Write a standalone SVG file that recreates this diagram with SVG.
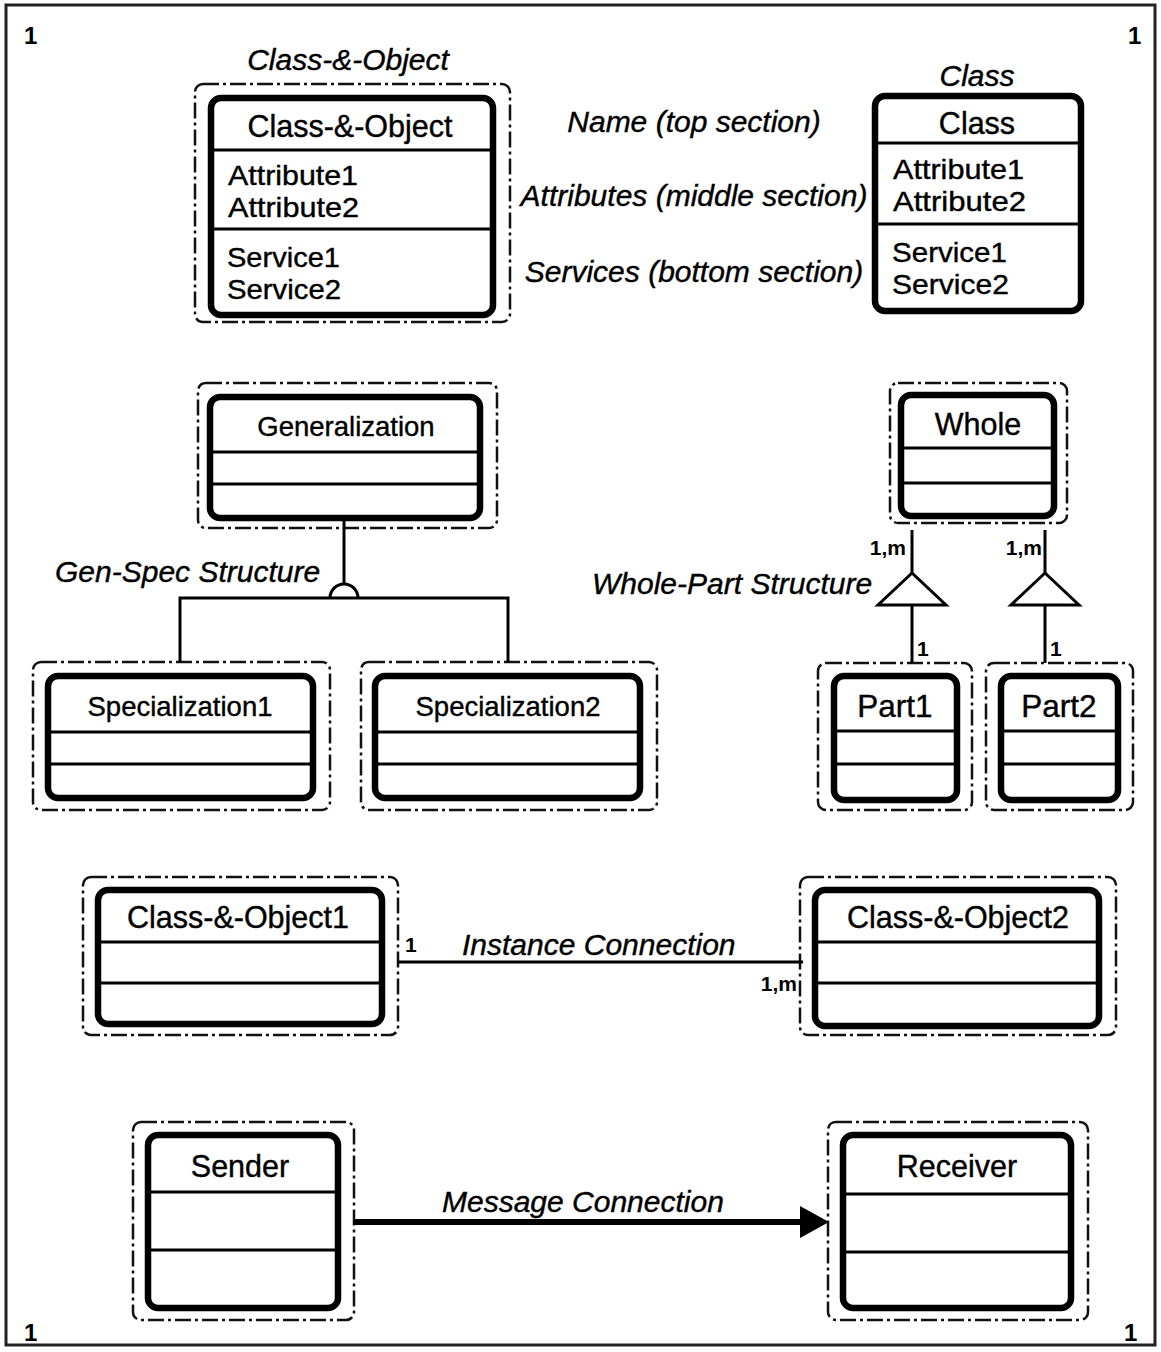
<svg xmlns="http://www.w3.org/2000/svg" width="1161" height="1352" viewBox="0 0 1161 1352">
<defs>
<style>
.bg{fill:#ffffff}
.frame{fill:none;stroke:#222;stroke-width:3}
.outer{fill:none;stroke:#111;stroke-width:2.5;stroke-dasharray:16 4 3 4}
.inner{fill:#fff;stroke:#000;stroke-width:6.5}
.div{stroke:#000;stroke-width:3}
.t{font-family:"Liberation Sans",Arial,sans-serif;font-size:30.5px;fill:#000;stroke:#000;stroke-width:0.4}
.a{font-size:28.5px}
.s{font-size:27.5px}
.p{font-size:31.5px}
.tc{text-anchor:middle}
.i{font-family:"Liberation Sans",Arial,sans-serif;font-size:30px;font-style:italic;fill:#000;stroke:#000;stroke-width:0.4}
.m{font-family:"Liberation Sans",Arial,sans-serif;font-size:21px;font-weight:bold;fill:#000}
.c{font-family:"Liberation Sans",Arial,sans-serif;font-size:24px;font-weight:bold;fill:#000}
.ln{fill:none;stroke:#000;stroke-width:3}
</style>
</defs>
<rect class="bg" x="0" y="0" width="1161" height="1352"/>
<rect class="frame" x="6" y="5" width="1149" height="1340"/>
<g id="corners">
<text class="c" x="24" y="44">1</text>
<text class="c" x="1128" y="44">1</text>
<text class="c" x="24" y="1341">1</text>
<text class="c" x="1124" y="1341">1</text>
</g>

<g id="class-object">
<text class="i tc" x="348" y="70">Class-&amp;-Object</text>
<rect class="outer" x="195" y="84" width="315" height="238" rx="8"/>
<rect class="inner" x="211" y="98" width="282" height="217" rx="10"/>
<line class="div" x1="211" y1="150" x2="493" y2="150"/>
<line class="div" x1="211" y1="229" x2="493" y2="229"/>
<text class="t tc" x="350" y="137">Class-&amp;-Object</text>
<text class="t a" x="228" y="185" textLength="130" lengthAdjust="spacingAndGlyphs">Attribute1</text>
<text class="t a" x="228" y="217" textLength="131" lengthAdjust="spacingAndGlyphs">Attribute2</text>
<text class="t a" x="227" y="267" textLength="113" lengthAdjust="spacingAndGlyphs">Service1</text>
<text class="t a" x="227" y="299" textLength="114" lengthAdjust="spacingAndGlyphs">Service2</text>
</g>

<g id="section-labels">
<text class="i tc" x="694" y="132">Name (top section)</text>
<text class="i tc" x="694" y="206">Attributes (middle section)</text>
<text class="i tc" x="694" y="282">Services (bottom section)</text>
</g>

<g id="class">
<text class="i tc" x="977" y="86">Class</text>
<rect class="inner" x="875" y="96" width="206" height="215" rx="10"/>
<line class="div" x1="875" y1="143" x2="1081" y2="143"/>
<line class="div" x1="875" y1="224" x2="1081" y2="224"/>
<text class="t tc" x="977" y="134">Class</text>
<text class="t a" x="893" y="179" textLength="131" lengthAdjust="spacingAndGlyphs">Attribute1</text>
<text class="t a" x="893" y="211" textLength="133" lengthAdjust="spacingAndGlyphs">Attribute2</text>
<text class="t a" x="892" y="262" textLength="115" lengthAdjust="spacingAndGlyphs">Service1</text>
<text class="t a" x="892" y="294" textLength="117" lengthAdjust="spacingAndGlyphs">Service2</text>
</g>

<g id="generalization">
<rect class="outer" x="198" y="383" width="299" height="145" rx="8"/>
<rect class="inner" x="210" y="397" width="270" height="121" rx="10"/>
<line class="div" x1="210" y1="452" x2="480" y2="452"/>
<line class="div" x1="210" y1="484" x2="480" y2="484"/>
<text class="t s tc" x="346" y="436">Generalization</text>
</g>

<g id="specialization1">
<rect class="outer" x="33" y="662" width="297" height="148" rx="8"/>
<rect class="inner" x="48" y="676" width="265" height="122" rx="10"/>
<line class="div" x1="48" y1="732" x2="313" y2="732"/>
<line class="div" x1="48" y1="764" x2="313" y2="764"/>
<text class="t s tc" x="180" y="716">Specialization1</text>
</g>

<g id="specialization2">
<rect class="outer" x="361" y="662" width="296" height="148" rx="8"/>
<rect class="inner" x="375" y="676" width="265" height="122" rx="10"/>
<line class="div" x1="375" y1="732" x2="640" y2="732"/>
<line class="div" x1="375" y1="764" x2="640" y2="764"/>
<text class="t s tc" x="508" y="716">Specialization2</text>
</g>

<g id="whole">
<rect class="outer" x="890" y="383" width="177" height="140" rx="8"/>
<rect class="inner" x="901" y="395" width="153" height="121" rx="10"/>
<line class="div" x1="901" y1="448" x2="1054" y2="448"/>
<line class="div" x1="901" y1="483" x2="1054" y2="483"/>
<text class="t tc" x="978" y="435">Whole</text>
</g>

<g id="part1">
<rect class="outer" x="818" y="663" width="154" height="147" rx="8"/>
<rect class="inner" x="834" y="676" width="123" height="124" rx="10"/>
<line class="div" x1="834" y1="731" x2="957" y2="731"/>
<line class="div" x1="834" y1="764" x2="957" y2="764"/>
<text class="t p tc" x="895" y="717">Part1</text>
</g>

<g id="part2">
<rect class="outer" x="986" y="663" width="147" height="147" rx="8"/>
<rect class="inner" x="1001" y="676" width="117" height="124" rx="10"/>
<line class="div" x1="1001" y1="731" x2="1118" y2="731"/>
<line class="div" x1="1001" y1="764" x2="1118" y2="764"/>
<text class="t p tc" x="1059" y="717">Part2</text>
</g>

<g id="class-object1">
<rect class="outer" x="83" y="877" width="315" height="158" rx="8"/>
<rect class="inner" x="98" y="890" width="284" height="134" rx="10"/>
<line class="div" x1="98" y1="942" x2="382" y2="942"/>
<line class="div" x1="98" y1="983" x2="382" y2="983"/>
<text class="t tc" x="238" y="928">Class-&amp;-Object1</text>
</g>

<g id="class-object2">
<rect class="outer" x="800" y="877" width="316" height="158" rx="8"/>
<rect class="inner" x="815" y="890" width="284" height="136" rx="10"/>
<line class="div" x1="815" y1="942" x2="1099" y2="942"/>
<line class="div" x1="815" y1="983" x2="1099" y2="983"/>
<text class="t tc" x="958" y="928">Class-&amp;-Object2</text>
</g>

<g id="sender">
<rect class="outer" x="133" y="1122" width="221" height="198" rx="8"/>
<rect class="inner" x="148" y="1135" width="190" height="173" rx="10"/>
<line class="div" x1="148" y1="1192" x2="338" y2="1192"/>
<line class="div" x1="148" y1="1250" x2="338" y2="1250"/>
<text class="t tc" x="240" y="1177">Sender</text>
</g>

<g id="receiver">
<rect class="outer" x="828" y="1122" width="260" height="198" rx="8"/>
<rect class="inner" x="843" y="1135" width="228" height="173" rx="10"/>
<line class="div" x1="843" y1="1194" x2="1071" y2="1194"/>
<line class="div" x1="843" y1="1252" x2="1071" y2="1252"/>
<text class="t tc" x="957" y="1177">Receiver</text>
</g>

<g id="connectors">
<line class="ln" x1="344" y1="518" x2="344" y2="584"/>
<path class="ln" d="M330,598 A14,14 0 0 1 358,598"/>
<path class="ln" d="M180,662 V598 H508 V662"/>
<text class="i" x="55" y="582">Gen-Spec Structure</text>
<line class="ln" x1="912" y1="530" x2="912" y2="573"/>
<polygon class="ln" points="912,573 878,605 946,605" style="fill:#fff"/>
<line class="ln" x1="912" y1="605" x2="912" y2="663"/>
<text class="m" x="906" y="555" text-anchor="end">1,m</text>
<text class="m" x="917" y="656">1</text>
<line class="ln" x1="1045" y1="530" x2="1045" y2="573"/>
<polygon class="ln" points="1045,573 1011,605 1079,605" style="fill:#fff"/>
<line class="ln" x1="1045" y1="605" x2="1045" y2="663"/>
<text class="m" x="1042" y="555" text-anchor="end">1,m</text>
<text class="m" x="1050" y="656">1</text>
<text class="i" x="592" y="594">Whole-Part Structure</text>
<line class="ln" x1="398" y1="962" x2="803" y2="962"/>
<text class="m" x="405" y="952">1</text>
<text class="i" x="462" y="955">Instance Connection</text>
<text class="m" x="797" y="991" text-anchor="end">1,m</text>
<line x1="353" y1="1222" x2="806" y2="1222" stroke="#000" stroke-width="6"/>
<polygon points="800,1206 829,1222 800,1238" fill="#000"/>
<text class="i" x="442" y="1212">Message Connection</text>
</g>
</svg>
